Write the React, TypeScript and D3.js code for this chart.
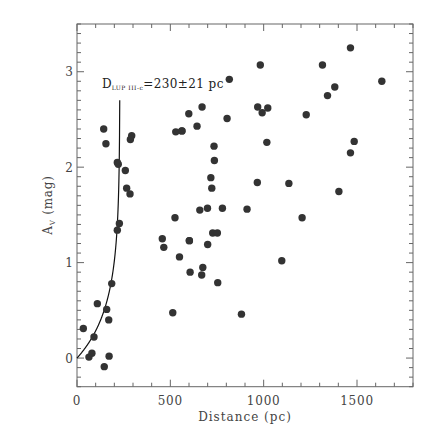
import React from "react";
import * as d3 from "d3";

const distances = [
  34, 91, 109, 159, 170, 186, 64, 80, 172, 146,
  143, 155, 216, 221, 259, 293, 286, 266, 284, 227, 216,
  529, 561, 525, 457, 465, 549, 602, 513,
  816, 599, 670, 563, 643, 804, 968, 992, 1022, 1017,
  734, 736, 717, 722, 966, 1135, 658, 699, 779, 911,
  727, 752, 602, 700, 674, 606, 668, 754, 1097, 881,
  1465, 1315, 1381, 1342, 1633, 1228, 1485, 1465, 982,
  1403, 1206,
];
const extinctions = [
  0.31, 0.22, 0.57, 0.51, 0.40, 0.78, 0.01, 0.05, 0.02, -0.09,
  2.40, 2.245, 2.05, 2.03, 1.965, 2.33, 2.29, 1.78, 1.72, 1.41, 1.34,
  2.37, 2.38, 1.47, 1.25, 1.16, 1.06, 1.23, 0.475,
  2.92, 2.56, 2.63, 2.38, 2.43, 2.51, 2.63, 2.57, 2.62, 2.26,
  2.22, 2.07, 1.89, 1.78, 1.84, 1.83, 1.55, 1.57, 1.57, 1.56,
  1.31, 1.31, 1.23, 1.19, 0.95, 0.90, 0.87, 0.79, 1.02, 0.46,
  3.25, 3.07, 2.84, 2.75, 2.90, 2.55, 2.27, 2.15, 3.07,
  1.745, 1.47,
];
const xTicks = [0, 500, 1000, 1500];
const yTicks = [0, 1, 2, 3];
const cloudDistance = 230;
const modelScale = 0.5;
const modelMaxAv = 2.7;

const W = 436, H = 436;
const L = 77, R = 413, T = 24, B = 386.7;
const font = "'DejaVu Serif', 'Liberation Serif', serif";

export default function App() {
  const x = d3.scaleLinear().domain([0, 1800]).range([L, R]);
  const y = d3.scaleLinear().domain([-0.3, 3.5]).range([B, T]);
  const axisColor = "#666";
  const textColor = "#444";

  const xMinor = d3.range(0, 1801, 100);
  const yMinor = d3.range(-3, 36).map((v) => v / 10);

  const dMax = cloudDistance * (1 - Math.exp(-modelMaxAv / modelScale));
  const curvePts: [number, number][] = d3
    .range(0, 201)
    .map((i) => {
      const d = (dMax * i) / 200;
      return [d, -modelScale * Math.log(1 - d / cloudDistance)] as [number, number];
    });
  const line = d3
    .line<[number, number]>()
    .x((p) => x(p[0]))
    .y((p) => y(p[1]));

  const points = distances.map((d, i) => ({ d, a: extinctions[i] }));

  return (
    <svg width={W} height={H} style={{ position: "absolute", left: 0, top: 0 }}>
      <rect x={0} y={0} width={W} height={H} fill="white" />
      {xMinor.map((v) => {
        const major = v % 500 === 0;
        const len = major ? 7 : 4;
        return (
          <g key={"xt" + v} stroke={axisColor} strokeWidth={1}>
            <line x1={x(v)} x2={x(v)} y1={B} y2={B - len} />
            <line x1={x(v)} x2={x(v)} y1={T} y2={T + len} />
          </g>
        );
      })}
      {yMinor.map((v) => {
        const major = Math.abs(v - Math.round(v)) < 1e-6;
        const len = major ? 7 : 4;
        return (
          <g key={"yt" + v} stroke={axisColor} strokeWidth={1}>
            <line x1={L} x2={L + len} y1={y(v)} y2={y(v)} />
            <line x1={R} x2={R - len} y1={y(v)} y2={y(v)} />
          </g>
        );
      })}
      <rect x={L} y={T} width={R - L} height={B - T} fill="none" stroke={axisColor} strokeWidth={1} />
      {xTicks.map((v) => (
        <text key={"xl" + v} x={x(v)} y={405} textAnchor="middle" fontFamily={font} fontSize={12} fill={textColor} letterSpacing={0.8}>
          {v}
        </text>
      ))}
      {yTicks.map((v) => (
        <text key={"yl" + v} x={73} y={y(v) + 4.5} textAnchor="end" fontFamily={font} fontSize={12} fill={textColor}>
          {v}
        </text>
      ))}
      <text x={245} y={421} textAnchor="middle" fontFamily={font} fontSize={12} fill={textColor} letterSpacing={1}>
        Distance (pc)
      </text>
      <text
        transform={`translate(52,205) rotate(-90)`}
        textAnchor="middle"
        fontFamily={font}
        fontSize={12}
        fill={textColor}
        letterSpacing={0.8}
      >
        A<tspan fontSize={7} dy={3}>V</tspan>
        <tspan dy={-3}> (mag)</tspan>
      </text>
      <path d={line(curvePts) || ""} fill="none" stroke="#111" strokeWidth={1.2} />
      <text x={102} y={88} fontFamily={font} fontSize={12} fill="#222">
        D<tspan fontSize={6} dy={1.5} letterSpacing={0.5}>LUP III-c</tspan>
        <tspan dy={-1.5} letterSpacing={0.4}>=230±21  pc</tspan>
      </text>
      {points.map((p, i) => (
        <circle key={i} cx={x(p.d)} cy={y(p.a)} r={3.7} fill="#333" />
      ))}
    </svg>
  );
}
